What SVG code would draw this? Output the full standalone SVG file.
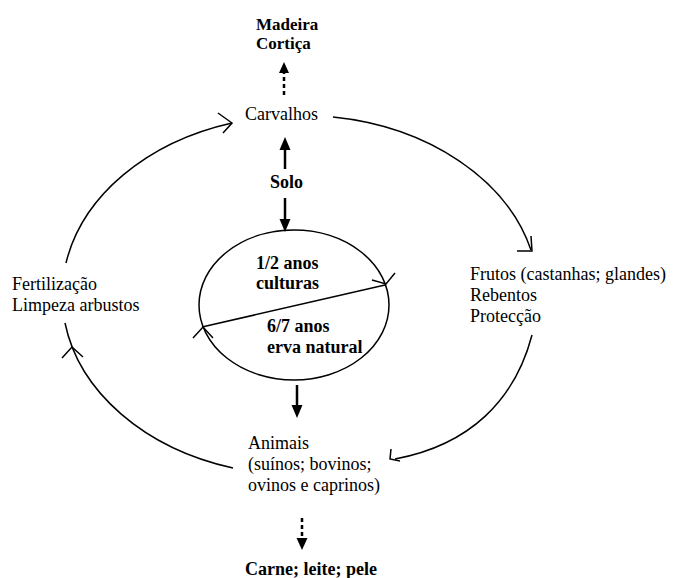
<svg xmlns="http://www.w3.org/2000/svg" width="674" height="578" viewBox="0 0 674 578">
<defs>
<style>
.t{font-family:"Liberation Serif","Times New Roman",serif;font-size:18px;fill:#000}
.b{font-weight:bold}
.s17{font-size:17px}
.c{fill:none;stroke:#000;stroke-width:1.5}
.v{fill:none;stroke:#000;stroke-width:2.5}
.d{fill:none;stroke:#000;stroke-width:2.5;stroke-dasharray:4 3}
.h{fill:#000;stroke:none}
</style>
</defs>
<rect width="674" height="578" fill="#fff"/>
<g id="madeira"><text class="t b s17" x="256" y="30">Madeira</text><text class="t b s17" x="256" y="49">Cortiça</text></g>
<g id="carvalhos"><text class="t" x="245" y="120">Carvalhos</text></g>
<g id="solo"><text class="t b" x="270" y="188">Solo</text></g>
<g id="rotacao">
<ellipse class="c" cx="294" cy="305" rx="95" ry="75"/>
<text class="t b" x="256" y="269">1/2 anos</text><text class="t b" x="256" y="289">culturas</text>
<text class="t b" x="267" y="332">6/7 anos</text><text class="t b" x="267" y="353">erva natural</text>
</g>
<g id="frutos"><text class="t" x="470" y="280">Frutos (castanhas; glandes)</text><text class="t" x="470" y="301">Rebentos</text><text class="t" x="470" y="322">Protecção</text></g>
<g id="animais"><text class="t" x="248" y="449">Animais</text><text class="t" x="248" y="470">(suínos; bovinos;</text><text class="t" x="248" y="491">ovinos e caprinos)</text></g>
<g id="fertilizacao"><text class="t" x="12" y="290">Fertilização</text><text class="t" x="12" y="311">Limpeza arbustos</text></g>
<g id="carne"><text class="t b" x="245" y="575">Carne; leite; pele</text></g>
<g id="connectors">
<path class="d" d="M284,95 V73"/><path class="h" d="M284,62 L289,73 L279,73 Z"/>
<path class="v" d="M285,169 V150"/><path class="h" d="M285,137 L290.5,150 L279.5,150 Z"/>
<path class="v" d="M285,198 V220"/><path class="h" d="M285,232 L290.5,219 L279.5,219 Z"/>
<path class="v" d="M297,385 V406"/><path class="h" d="M297,418 L302.5,405 L291.5,405 Z"/>
<path class="d" d="M302,518 V538"/><path class="h" d="M302,550 L307.5,538 L296.5,538 Z"/>
<path class="c" d="M202,327 L385,285"/>
<polyline class="c" points="372,280 386,284 395,273"/>
<polyline class="c" points="193,338 203,327 213,338"/>
<path class="c" d="M333,117 A237,180 0 0 1 531,250"/>
<polyline class="c" points="517,251 532,251 531,236"/>
<path class="c" d="M532,335 C515,400 470,445 395,459"/>
<polyline class="c" points="391,449 390,459 400,461"/>
<path class="c" d="M233,468 A237,180 0 0 1 65,323"/>
<polyline class="c" points="62,358 72,347 83,357"/>
<path class="c" d="M66,263 A237,180 0 0 1 232,123"/>
<polyline class="c" points="218,113 232,123 223,133"/>
</g>
</svg>
